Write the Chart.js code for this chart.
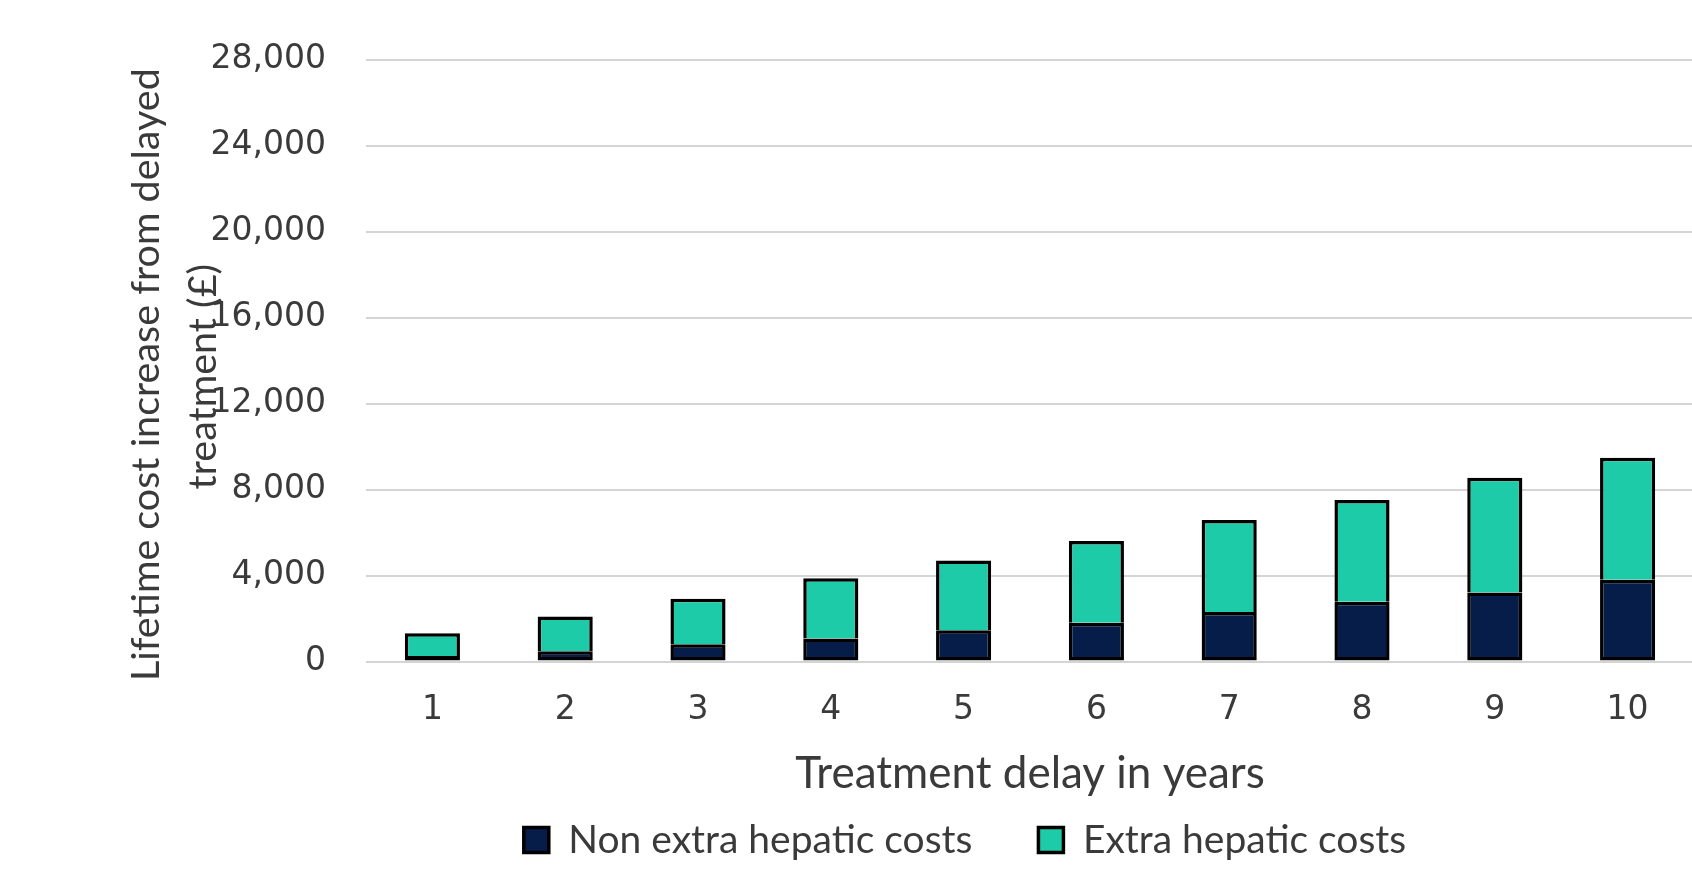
<!DOCTYPE html>
<html>
<head>
<meta charset="utf-8">
<script src="https://cdn.jsdelivr.net/npm/chart.js@4/dist/chart.umd.min.js"></script>
<style>
  html, body { margin: 0; padding: 0; background: #ffffff; overflow: hidden; }
  #wrap { position: relative; width: 1700px; height: 873px; }
</style>
</head>
<body>
<div id="wrap"><canvas id="chart"></canvas></div>
<script>
// Treatment delay (years) on the x axis
const delayYears = ['1', '2', '3', '4', '5', '6', '7', '8', '9', '10'];
// Lifetime cost increase (GBP), stacked per delay
const nonExtraHepatic = [260, 480, 800, 1070, 1450, 1800, 2300, 2780, 3210, 3800];
const extraHepatic = [1060, 1610, 2120, 2800, 3245, 3810, 4280, 4730, 5340, 5680];
// Series names and axis titles
const seriesNames = ['Non extra hepatic costs', 'Extra hepatic costs'];
const yTitleLines = ['Lifetime cost increase from delayed', 'treatment (£)'];
const xTitle = 'Treatment delay in years';
const yMax = 28000;
const yStep = 4000;

const textColor = '#3a3a3a';
const titleFont = 'Lato';
const tickFont = 'DejaVu Sans';

// Two-line rotated y-axis title that sits partly over the tick column
const yTitlePlugin = {
  id: 'yTitle',
  afterDraw(chart) {
    const ctx = chart.ctx;
    const area = chart.chartArea;
    const midY = (area.top + area.bottom) / 2 + 14;
    ctx.save();
    ctx.fillStyle = textColor;
    ctx.font = '39.5px ' + titleFont;
    ctx.textAlign = 'center';
    ctx.textBaseline = 'middle';
    const xs = [146, 203];
    yTitleLines.forEach((line, i) => {
      ctx.save();
      ctx.translate(xs[i], midY + (i === 1 ? 2 : 0));
      ctx.rotate(-Math.PI / 2);
      ctx.fillText(line, 0, 0);
      ctx.restore();
    });
    ctx.restore();
  }
};

// Centre the legend row a little right of the full-width midpoint
const legendOffset = {
  id: 'legendOffset',
  afterLayout(chart) {
    const lg = chart.legend;
    if (!lg) return;
    const dx = 18;
    lg.left += dx;
    lg.right += dx;
  }
};

new Chart(document.getElementById('chart'), {
  type: 'bar',
  data: {
    labels: delayYears,
    datasets: [
      {
        label: seriesNames[0],
        data: nonExtraHepatic,
        backgroundColor: '#071d49',
        borderColor: '#000000',
        borderWidth: 3.5,
        borderSkipped: false
      },
      {
        label: seriesNames[1],
        data: extraHepatic,
        backgroundColor: '#1ecba9',
        borderColor: '#000000',
        borderWidth: 3.5
      }
    ]
  },
  options: {
    responsive: true,
    maintainAspectRatio: false,
    animation: false,
    events: [],
    layout: { padding: { top: 59, left: 200, right: 6, bottom: 3.5 } },
    datasets: { bar: { barPercentage: 0.415, categoryPercentage: 1.0 } },
    scales: {
      x: {
        stacked: true,
        grid: { display: false, drawTicks: false },
        border: { display: false },
        ticks: {
          padding: 29,
          color: textColor,
          font: { family: tickFont, size: 33 }
        },
        title: {
          display: true,
          text: xTitle,
          color: textColor,
          font: { family: titleFont, size: 44 },
          padding: { top: 0, bottom: -46 }
        },
        afterFit(scale) { scale.height = 93; }
      },
      y: {
        stacked: true,
        min: 0,
        max: yMax,
        grid: { color: '#d4d4d4', lineWidth: 2, drawTicks: false },
        border: { display: false },
        ticks: {
          stepSize: yStep,
          padding: 40,
          color: textColor,
          font: { family: tickFont, size: 33 },
          callback: (v) => v.toLocaleString('en-GB')
        },
        afterFit(scale) { scale.width = 166; }
      }
    },
    plugins: {
      legend: {
        position: 'bottom',
        labels: {
          color: textColor,
          font: { family: titleFont, size: 39 },
          boxWidth: 25,
          boxHeight: 25,
          padding: 66
        }
      },
      tooltip: { enabled: false }
    }
  },
  plugins: [yTitlePlugin, legendOffset]
});
</script>
</body>
</html>
